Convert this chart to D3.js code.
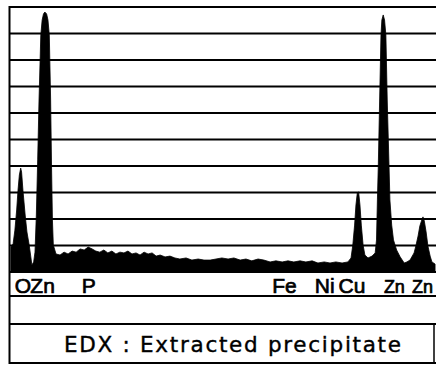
<!DOCTYPE html>
<html>
<head>
<meta charset="utf-8">
<script src="https://cdn.jsdelivr.net/npm/d3@7"></script>
<style>
  html, body { margin: 0; padding: 0; background: #fff; }
  svg { display: block; }
  text { font-family: "Liberation Sans", Arial, Helvetica, sans-serif; fill: #000; }
</style>
</head>
<body>
<svg id="chart" width="436" height="365"></svg>
<script>
// Spectrum outline: energy (keV) and counts (in grid-line units)
const energy = [
  0.31, 0.31, 0.36, 0.40, 0.44, 0.47, 0.50, 0.53, 0.55, 0.58, 0.63, 0.67, 0.72, 0.76, 0.78, 0.82,
  0.85, 0.88, 0.91, 0.94, 0.98, 1.01, 1.04, 1.07, 1.11, 1.14, 1.17, 1.20, 1.22, 1.24, 1.26, 1.32,
  1.41, 1.50, 1.59, 1.68, 1.77, 1.86, 1.95, 2.04, 2.13, 2.21, 2.30, 2.39, 2.48, 2.57, 2.66, 2.75,
  2.84, 2.93, 3.02, 3.11, 3.20, 3.29, 3.38, 3.47, 3.56, 3.65, 3.76, 3.87, 3.98, 4.09, 4.23, 4.36,
  4.50, 4.63, 4.77, 4.90, 5.03, 5.17, 5.30, 5.44, 5.57, 5.70, 5.84, 5.97, 6.11, 6.24, 6.38, 6.51,
  6.64, 6.78, 6.91, 7.05, 7.18, 7.32, 7.45, 7.58, 7.72, 7.85,
  7.92, 7.96, 8.00, 8.03, 8.06, 8.09, 8.12, 8.15, 8.19, 8.23, 8.30, 8.39, 8.46,
  8.49, 8.51, 8.53, 8.56, 8.59, 8.61, 8.64, 8.67, 8.70, 8.73, 8.77, 8.79, 8.83, 8.87, 8.94, 9.02,
  9.11, 9.17,
  9.24, 9.33, 9.37, 9.42, 9.46, 9.51, 9.53, 9.56, 9.60, 9.64, 9.69, 9.73, 9.80, 9.80
];
const counts = [
  0.00, 0.94, 1.06, 1.58, 2.34, 3.09, 3.66, 3.92, 3.77, 3.09, 2.15, 1.51, 1.02, 0.53, 0.26, 0.38,
  0.75, 2.15, 4.23, 6.49, 8.94, 9.51, 9.74, 9.81, 9.74, 9.51, 8.94, 6.49, 4.00, 1.96, 1.02, 0.68,
  0.64, 0.75, 0.68, 0.79, 0.75, 0.87, 0.83, 0.94, 0.87, 0.79, 0.75, 0.83, 0.72, 0.79, 0.68, 0.75,
  0.72, 0.79, 0.68, 0.72, 0.64, 0.75, 0.68, 0.72, 0.60, 0.64, 0.57, 0.60, 0.53, 0.49, 0.53, 0.45,
  0.49, 0.45, 0.45, 0.49, 0.53, 0.49, 0.53, 0.45, 0.49, 0.42, 0.49, 0.45, 0.38, 0.42, 0.38, 0.42,
  0.38, 0.42, 0.38, 0.42, 0.34, 0.38, 0.34, 0.38, 0.34, 0.38,
  0.53, 1.02, 1.77, 2.53, 2.98, 3.02, 2.53, 1.77, 1.02, 0.64, 0.53, 0.60, 0.72,
  1.21, 2.72, 4.00, 6.49, 8.94, 9.51, 9.70, 9.51, 8.94, 6.49, 4.00, 2.72, 1.77, 1.21, 0.83, 0.57,
  0.34, 0.38,
  0.45, 0.72, 0.98, 1.36, 1.74, 2.00, 2.08, 1.92, 1.51, 0.98, 0.60, 0.38, 0.30, 0.00
];

// Horizontal grid levels (grid-line units)
const gridLevels = [0, 1, 2, 3, 4, 5, 6, 7, 8, 9, 10];

// Element labels and the energy (keV) each label is centred on
const labelText   = ["O", "Zn", "P", "Fe", "Ni", "Cu", "Zn", "Zn"];
const labelEnergy = [0.58, 1.02, 2.05, 6.43, 7.33, 7.94, 8.89, 9.52];
const labelLine   = ["K", "L", "K", "K", "K", "K", "Kα", "Kβ"];

const titleText = "EDX : Extracted precipitate";

// ---- drawing ----
const W = 436, H = 365;
const svg = d3.select("#chart");

const x = d3.scaleLinear().domain([0, 10]).range([-3, 444]);
const y = d3.scaleLinear().domain([0, 10]).range([272, 7]);

const leftX = 9.5;
const rowBottom = 296;
const titleTop = 324;
const bottomY = 363;

// grid lines (including top border and baseline)
svg.append("g")
  .selectAll("line")
  .data(gridLevels)
  .join("line")
  .attr("x1", leftX).attr("x2", W)
  .attr("y1", d => y(d)).attr("y2", d => y(d))
  .attr("stroke", "#000")
  .attr("stroke-width", d => (d === 10 ? 2 : 1.8));

// spectrum
const pts = energy.map((e, i) => [e, counts[i]]);
const area = d3.area()
  .x(d => x(d[0]))
  .y0(y(0))
  .y1(d => y(d[1]))
  .curve(d3.curveLinear);

svg.append("path")
  .datum(pts)
  .attr("d", area)
  .attr("fill", "#000")
  .attr("stroke", "#000")
  .attr("stroke-width", 0.8)
  .attr("stroke-linejoin", "round");

// frame lines below the plot
[rowBottom, titleTop, bottomY].forEach(yy => {
  svg.append("line")
    .attr("x1", leftX).attr("x2", W)
    .attr("y1", yy).attr("y2", yy)
    .attr("stroke", "#000").attr("stroke-width", 1.8);
});

// left border
svg.append("line")
  .attr("x1", leftX).attr("x2", leftX)
  .attr("y1", 6).attr("y2", 364)
  .attr("stroke", "#000").attr("stroke-width", 2);

// right edge of title box
svg.append("line")
  .attr("x1", 434).attr("x2", 434)
  .attr("y1", titleTop).attr("y2", bottomY)
  .attr("stroke", "#000").attr("stroke-width", 1.5);

// element labels
svg.append("g")
  .selectAll("text")
  .data(labelText.map((t, i) => ({ t, e: labelEnergy[i], line: labelLine[i] })))
  .join("text")
  .attr("x", d => x(d.e))
  .attr("y", 293)
  .attr("text-anchor", "middle")
  .attr("font-size", d => (d.line === "Kα" || d.line === "Kβ") ? 18 : 21)
  .attr("stroke", "#000")
  .attr("stroke-width", 0.7)
  .text(d => d.t);

// title
svg.append("text")
  .attr("x", 64)
  .attr("y", 352)
  .style("font-family", "'DejaVu Sans', sans-serif")
  .attr("font-size", 21.5)
  .attr("textLength", 337)
  .attr("lengthAdjust", "spacing")
  .attr("stroke", "#000")
  .attr("stroke-width", 0.4)
  .text(titleText);
</script>
</body>
</html>
